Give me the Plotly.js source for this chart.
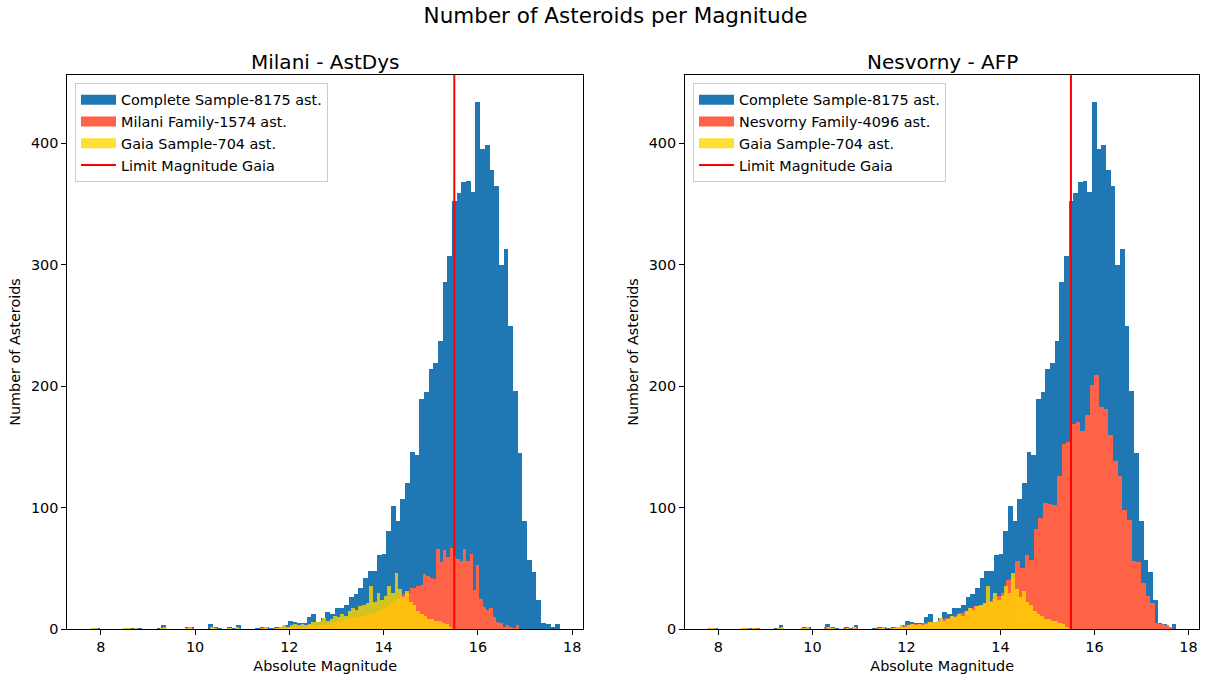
<!DOCTYPE html>
<html>
<head>
<meta charset="utf-8">
<script src="https://cdn.plot.ly/plotly-3.0.1.min.js"></script>
<style>
  html, body { margin: 0; padding: 0; background: #ffffff; }
  #chart { width: 1207px; height: 677px; }
</style>
</head>
<body>
<div id="chart"></div>
<script>
// Histogram counts per magnitude bin (100 bins each, own bin start and width)
const COMPLETE_COUNTS = [
  1, 1, 0, 0, 0, 0, 0, 1, 1, 1,
  1, 0, 0, 0, 1, 3, 0, 0, 0, 0,
  2, 2, 0, 0, 0, 4, 2, 1, 0, 2,
  1, 3, 0, 0, 0, 1, 2, 2, 1, 2,
  2, 3, 7, 6, 5, 5, 10, 12, 6, 9,
  14, 12, 17, 17, 20, 26, 29, 34, 42, 48,
  48, 61, 62, 81, 101, 89, 107, 120, 146, 143,
  189, 195, 214, 219, 237, 286, 307, 352, 359, 368,
  369, 360, 434, 395, 398, 378, 365, 300, 313, 249,
  196, 145, 89, 57, 47, 24, 5, 4, 2, 4
];
const COMPLETE_BIN_START = 7.79;
const COMPLETE_BIN_WIDTH = 0.0995;

const MILANI_COUNTS = [
  1, 1, 0, 0, 0, 0, 0, 1, 1, 0,
  0, 0, 1, 0, 0, 1, 0, 0, 0, 0,
  0, 0, 1, 0, 0, 0, 1, 0, 1, 1,
  2, 1, 2, 1, 2, 2, 3, 3, 2, 3,
  4, 3, 4, 3, 6, 7, 6, 8, 8, 9,
  9, 10, 11, 11, 12, 12, 13, 15, 16, 17,
  19, 21, 23, 25, 27, 29, 30, 34, 34, 35,
  36, 45, 44, 42, 41, 66, 55, 65, 59, 67,
  60, 58, 56, 66, 56, 62, 32, 53, 25, 18,
  16, 17, 10, 6, 5, 2, 3, 2, 1, 3
];
const MILANI_BIN_START = 9.83;
const MILANI_BIN_WIDTH = 0.0705;

const NESVORNY_COUNTS = [
  1, 0, 0, 0, 0, 0, 0, 1, 1, 0,
  1, 0, 0, 0, 0, 1, 0, 0, 0, 0,
  1, 1, 0, 0, 0, 2, 1, 0, 0, 1,
  0, 2, 0, 0, 0, 0, 1, 1, 0, 1,
  2, 2, 3, 3, 4, 4, 5, 6, 5, 6,
  8, 9, 10, 11, 13, 15, 17, 19, 19, 21,
  23, 25, 27, 30, 40, 42, 56, 50, 61, 57,
  82, 91, 104, 103, 102, 126, 152, 154, 169, 170,
  163, 176, 201, 209, 183, 181, 160, 138, 126, 98,
  90, 56, 55, 38, 27, 21, 5, 4, 3, 2
];
const NESVORNY_BIN_START = 7.78;
const NESVORNY_BIN_WIDTH = 0.099;

const GAIA_COUNTS = [
  1, 1, 0, 0, 0, 0, 0, 0, 0, 1,
  1, 0, 1, 0, 0, 0, 0, 0, 0, 1,
  2, 0, 0, 0, 0, 0, 1, 2, 0, 0,
  0, 0, 0, 2, 1, 0, 0, 0, 1, 0,
  2, 0, 0, 0, 0, 0, 0, 1, 2, 0,
  0, 1, 2, 3, 2, 3, 4, 3, 4, 3,
  4, 6, 6, 7, 9, 7, 8, 11, 10, 12,
  11, 15, 17, 16, 19, 20, 21, 35, 22, 30,
  24, 27, 35, 30, 46, 33, 26, 31, 22, 20,
  15, 12, 11, 8, 8, 7, 7, 5, 4, 2
];
const GAIA_BIN_START = 7.79;
const GAIA_BIN_WIDTH = 0.0767;

const LIMIT_MAGNITUDE = 15.5;

const PANEL_TITLES = ['Milani - AstDys', 'Nesvorny - AFP'];
const LABEL_COMPLETE = 'Complete Sample-8175 ast.';
const LABEL_MILANI = 'Milani Family-1574 ast.';
const LABEL_NESVORNY = 'Nesvorny Family-4096 ast.';
const LABEL_GAIA = 'Gaia Sample-704 ast.';
const LABEL_LIMIT = 'Limit Magnitude Gaia';

const X_TICKS = [8, 10, 12, 14, 16, 18];
const Y_TICKS = [0, 100, 200, 300, 400];

// ---- styling ----
const C_BLUE = '#1f77b4';
const C_TOMATO = '#ff6347';
const C_GOLD = '#ffd700';
const GOLD_ALPHA = 0.8;
const FONT = 'DejaVu Sans, Verdana, sans-serif';

const W = 1207, H = 677;
const px = v => v / W;
const py = v => 1 - v / H;

const X_RANGE = [7.29, 18.23];
const Y_RANGE = [0, 456];

function histBars(counts, start, width, color, opacity, xa, ya) {
  return {
    type: 'bar',
    x0: start + width / 2,
    dx: width,
    width: width,
    y: counts,
    xaxis: xa,
    yaxis: ya,
    marker: { color: color, line: { width: 0 } },
    opacity: opacity,
    showlegend: false,
    hoverinfo: 'skip'
  };
}

// legend entries drawn as wide swatches (hidden proxy traces)
function legendProxy(name, color, width, opacity, legendId, xa, ya) {
  return {
    type: 'scatter',
    mode: 'lines',
    x: [null],
    y: [null],
    name: name,
    line: { color: color, width: width },
    opacity: opacity,
    legend: legendId,
    xaxis: xa,
    yaxis: ya,
    showlegend: true,
    hoverinfo: 'skip'
  };
}

const traces = [
  // left panel
  histBars(COMPLETE_COUNTS, COMPLETE_BIN_START, COMPLETE_BIN_WIDTH, C_BLUE, 1, 'x', 'y'),
  histBars(MILANI_COUNTS, MILANI_BIN_START, MILANI_BIN_WIDTH, C_TOMATO, 1, 'x', 'y'),
  histBars(GAIA_COUNTS, GAIA_BIN_START, GAIA_BIN_WIDTH, C_GOLD, GOLD_ALPHA, 'x', 'y'),
  // right panel
  histBars(COMPLETE_COUNTS, COMPLETE_BIN_START, COMPLETE_BIN_WIDTH, C_BLUE, 1, 'x2', 'y2'),
  histBars(NESVORNY_COUNTS, NESVORNY_BIN_START, NESVORNY_BIN_WIDTH, C_TOMATO, 1, 'x2', 'y2'),
  histBars(GAIA_COUNTS, GAIA_BIN_START, GAIA_BIN_WIDTH, C_GOLD, GOLD_ALPHA, 'x2', 'y2'),
  // legends
  legendProxy(LABEL_COMPLETE, C_BLUE, 10, 1, 'legend', 'x', 'y'),
  legendProxy(LABEL_MILANI, C_TOMATO, 10, 1, 'legend', 'x', 'y'),
  legendProxy(LABEL_GAIA, C_GOLD, 10, GOLD_ALPHA, 'legend', 'x', 'y'),
  legendProxy(LABEL_LIMIT, '#ff0000', 2, 1, 'legend', 'x', 'y'),
  legendProxy(LABEL_COMPLETE, C_BLUE, 10, 1, 'legend2', 'x2', 'y2'),
  legendProxy(LABEL_NESVORNY, C_TOMATO, 10, 1, 'legend2', 'x2', 'y2'),
  legendProxy(LABEL_GAIA, C_GOLD, 10, GOLD_ALPHA, 'legend2', 'x2', 'y2'),
  legendProxy(LABEL_LIMIT, '#ff0000', 2, 1, 'legend2', 'x2', 'y2')
];

const LEFT_DOMAIN = [px(67.3), px(583)];
const RIGHT_DOMAIN = [px(685), px(1199.3)];
const Y_DOMAIN = [py(629), py(75)];

function xAxis(domain, anchor) {
  return {
    domain: domain, anchor: anchor, range: X_RANGE,
    tickmode: 'array', tickvals: X_TICKS,
    ticks: 'outside', ticklen: 5, tickwidth: 1, tickcolor: '#000',
    showline: true, mirror: true, linecolor: '#000', linewidth: 1,
    showgrid: false, zeroline: false,
    tickfont: { family: FONT, size: 14.4, color: '#000' },
    title: { text: 'Absolute Magnitude', font: { family: FONT, size: 14.4, color: '#000' }, standoff: 6 }
  };
}
function yAxis(anchor) {
  return {
    domain: Y_DOMAIN, anchor: anchor, range: Y_RANGE,
    tickmode: 'array', tickvals: Y_TICKS,
    ticks: 'outside', ticklen: 5, tickwidth: 1, tickcolor: '#000',
    showline: true, mirror: true, linecolor: '#000', linewidth: 1,
    showgrid: false, zeroline: false,
    tickfont: { family: FONT, size: 14.4, color: '#000' },
    title: { text: 'Number of Asteroids', font: { family: FONT, size: 14.4, color: '#000' }, standoff: 6 }
  };
}

function legendBox(xPix) {
  return {
    x: px(xPix), y: py(83), xanchor: 'left', yanchor: 'top',
    bgcolor: 'rgba(255,255,255,0.8)', bordercolor: '#cccccc', borderwidth: 1,
    font: { family: FONT, size: 14.4, color: '#000' },
    itemwidth: 35,
    traceorder: 'normal'
  };
}

function limitLine(xref) {
  return {
    type: 'line', xref: xref, yref: xref.replace('x', 'y') + ' domain',
    x0: LIMIT_MAGNITUDE, x1: LIMIT_MAGNITUDE, y0: 0, y1: 1,
    line: { color: '#ff0000', width: 2 }, layer: 'above'
  };
}

const layout = {
  width: W, height: H,
  margin: { l: 0, r: 0, t: 0, b: 0 },
  paper_bgcolor: '#ffffff', plot_bgcolor: '#ffffff',
  font: { family: FONT, size: 14.4, color: '#000' },
  barmode: 'overlay', bargap: 0,
  showlegend: true,
  title: {
    text: 'Number of Asteroids per Magnitude',
    x: 0.51, xanchor: 'center', xref: 'paper',
    y: 1 - 15 / H, yanchor: 'middle', yref: 'container',
    font: { family: FONT, size: 21.5, color: '#000' }
  },
  xaxis: xAxis(LEFT_DOMAIN, 'y'),
  yaxis: yAxis('x'),
  xaxis2: xAxis(RIGHT_DOMAIN, 'y2'),
  yaxis2: yAxis('x2'),
  legend: legendBox(75),
  legend2: legendBox(693),
  shapes: [limitLine('x'), limitLine('x2')],
  annotations: [
    { text: PANEL_TITLES[0], xref: 'paper', yref: 'paper',
      x: (LEFT_DOMAIN[0] + LEFT_DOMAIN[1]) / 2, y: py(62),
      xanchor: 'center', yanchor: 'middle', showarrow: false,
      font: { family: FONT, size: 20, color: '#000' } },
    { text: PANEL_TITLES[1], xref: 'paper', yref: 'paper',
      x: (RIGHT_DOMAIN[0] + RIGHT_DOMAIN[1]) / 2, y: py(62),
      xanchor: 'center', yanchor: 'middle', showarrow: false,
      font: { family: FONT, size: 20, color: '#000' } }
  ]
};

Plotly.newPlot('chart', traces, layout, { staticPlot: true, displayModeBar: false });
</script>
</body>
</html>
